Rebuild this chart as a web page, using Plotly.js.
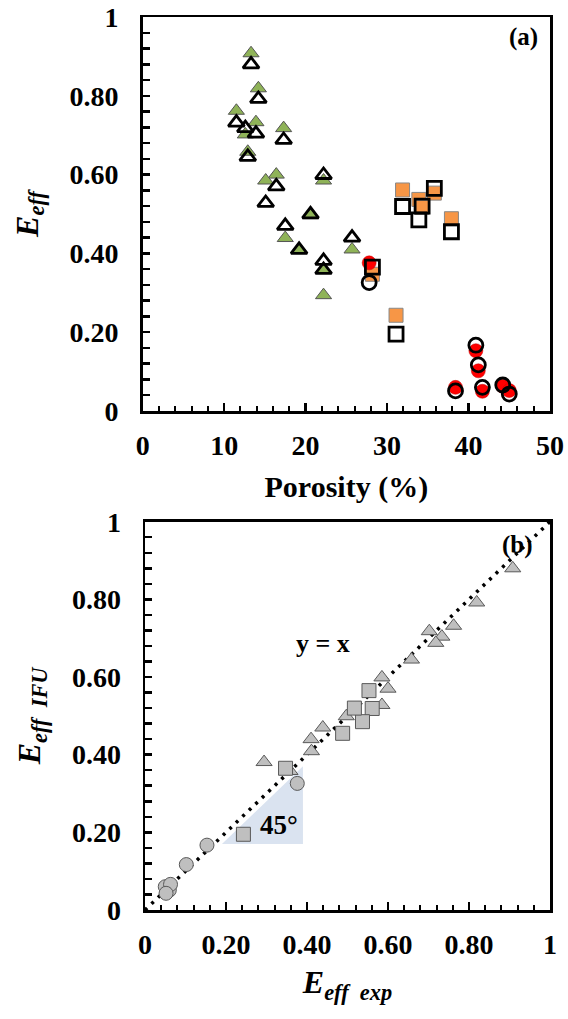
<!DOCTYPE html>
<html>
<head>
<meta charset="utf-8">
<script src="https://cdn.plot.ly/plotly-3.0.1.min.js"></script>
<style>html,body{margin:0;padding:0;background:#fff;}#chart{width:568px;height:1019px;}</style>
</head>
<body>
<div id="chart"></div>
<script>
// ---- Data ----
// Triangles: green filled = experimental, open = IFU model
const triPorosity = [13.3, 14.2, 11.5, 12.6, 13.9, 17.3, 12.9, 22.2, 16.4, 15.1, 20.6, 17.5, 19.2, 22.2, 22.2, 25.7];
const triExp      = [0.908, 0.819, 0.762, 0.702, 0.733, 0.718, 0.658, 0.585, 0.600, 0.585, 0.497, 0.439, 0.411, 0.294, 0.358, 0.410];
const triIFU      = [0.880, 0.792, 0.732, 0.718, 0.704, 0.688, 0.645, 0.599, 0.570, 0.528, 0.499, 0.470, 0.409, 0.381, 0.358, 0.440];
// Squares: orange filled = experimental, open = IFU model
const sqPorosity  = [31.9, 33.9, 34.3, 35.8, 37.9, 28.2, 31.1];
const sqExp       = [0.561, 0.537, 0.517, 0.553, 0.488, 0.347, 0.243];
const sqIFU       = [0.519, 0.485, 0.520, 0.565, 0.455, 0.365, 0.195];
// Circles: red filled = experimental, open = IFU model
const ciPorosity  = [27.8, 38.4, 40.9, 41.2, 41.7, 44.2, 45.0];
const ciExp       = [0.376, 0.060, 0.153, 0.102, 0.050, 0.063, 0.052];
const ciIFU       = [0.326, 0.051, 0.167, 0.117, 0.060, 0.066, 0.043];
// Reference line y = x
const lineXY = [0, 1];
// Tick labels
const effTickVals = [0, 0.2, 0.4, 0.6, 0.8, 1];
const effTickText = ['0', '0.20', '0.40', '0.60', '0.80', '1'];
const porTickVals = [0, 10, 20, 30, 40, 50];
const porTickText = ['0', '10', '20', '30', '40', '50'];

// ---- Styles ----
const SERIF = '"Liberation Serif", "Times New Roman", serif';
const GREEN = '#8fb358', ORANGE = '#f79646', RED = '#ff0000', GREY = '#bfbfbf';
const MS = 14;

function filled(x, y, symbol, color, xa, ya, lineColor, lw) {
  return {x: x, y: y, xaxis: xa, yaxis: ya, type: 'scatter', mode: 'markers', cliponaxis: false,
    marker: {symbol: symbol, size: MS, color: color, line: {color: lineColor, width: lw}}};
}
function openM(x, y, symbol, xa, ya) {
  return {x: x, y: y, xaxis: xa, yaxis: ya, type: 'scatter', mode: 'markers', cliponaxis: false,
    marker: {symbol: symbol, size: MS, color: 'rgba(0,0,0,0)', line: {color: 'black', width: 2.8}}};
}

const traces = [
  // panel (a)
  filled(triPorosity, triExp, 'triangle-up', GREEN, 'x', 'y', '#555', 1),
  filled(sqPorosity, sqExp, 'square', ORANGE, 'x', 'y', '#888', 1),
  filled(ciPorosity, ciExp, 'circle', RED, 'x', 'y', '#c00000', 0.5),
  openM(triPorosity, triIFU, 'triangle-up', 'x', 'y'),
  openM(sqPorosity, sqIFU, 'square', 'x', 'y'),
  openM(ciPorosity, ciIFU, 'circle', 'x', 'y'),
  // panel (b)
  {x: lineXY, y: lineXY, xaxis: 'x2', yaxis: 'y2', type: 'scatter', mode: 'lines', cliponaxis: false,
    line: {color: 'black', width: 3.5, dash: '3px,6px'}},
  filled(triExp, triIFU, 'triangle-up', GREY, 'x2', 'y2', '#595959', 1),
  filled(sqExp, sqIFU, 'square', GREY, 'x2', 'y2', '#595959', 1),
  filled(ciExp, ciIFU, 'circle', GREY, 'x2', 'y2', '#595959', 1)
];

const tickFont = {family: SERIF, size: 28, color: 'black', weight: 'bold'};
const titleFont = {family: SERIF, size: 30, color: 'black', weight: 'bold'};
const effTitleFont = {family: SERIF, size: 32, color: 'black', weight: 'bold'};

function axis(extra) {
  return Object.assign({
    showgrid: false, zeroline: false, showline: true, mirror: true,
    linecolor: 'black', linewidth: 2.5, ticks: 'inside', ticklen: 7, tickwidth: 2.5,
    tickcolor: 'black', tickfont: tickFont, ticklabelstandoff: 16, fixedrange: true
  }, extra);
}

const W = 568, H = 1019;
const layout = {
  width: W, height: H, margin: {l: 0, r: 0, t: 0, b: 0},
  paper_bgcolor: 'white', plot_bgcolor: 'white', showlegend: false,
  xaxis: axis({domain: [142.7 / W, 550 / W], range: [0, 50], anchor: 'y',
    tickmode: 'array', tickvals: porTickVals, ticktext: porTickText, ticklen: 8, ticklabelstandoff: 8,
    minor: {tickmode: 'linear', tick0: 0, dtick: 2, ticks: 'inside', ticklen: 5, tickwidth: 2, tickcolor: 'black'},
    title: {text: 'Porosity (%)', font: titleFont, standoff: 16}}),
  yaxis: axis({domain: [(H - 411) / H, (H - 17) / H], range: [0, 1], anchor: 'x',
    tickmode: 'array', tickvals: effTickVals, ticktext: effTickText,
    minor: {tickmode: 'linear', tick0: 0, dtick: 0.04, ticks: 'inside', ticklen: 7, tickwidth: 2.5, tickcolor: 'black'},
    title: {text: '<i>E</i><sub><i>eff</i></sub>', font: effTitleFont, standoff: 22}}),
  xaxis2: axis({domain: [145 / W, 550 / W], range: [0, 1], anchor: 'y2',
    tickmode: 'array', tickvals: effTickVals, ticktext: effTickText, ticklen: 8, ticklabelstandoff: 8,
    minor: {tickmode: 'linear', tick0: 0, dtick: 0.04, ticks: 'inside', ticklen: 5, tickwidth: 2, tickcolor: 'black'},
    title: {text: '<i>E</i><sub><i>eff  exp</i></sub>', font: effTitleFont, standoff: 12}}),
  yaxis2: axis({domain: [(H - 910) / H, (H - 521.7) / H], range: [0, 1], anchor: 'x2',
    tickmode: 'array', tickvals: effTickVals, ticktext: effTickText,
    minor: {tickmode: 'linear', tick0: 0, dtick: 0.04, ticks: 'inside', ticklen: 7, tickwidth: 2.5, tickcolor: 'black'},
    title: {text: '<i>E</i><sub><i>eff  IFU</i></sub>', font: effTitleFont, standoff: 22}}),
  shapes: [{type: 'path', xref: 'x2', yref: 'y2', path: 'M 0.19 0.17 L 0.39 0.17 L 0.39 0.37 Z',
    fillcolor: '#dae3f0', line: {width: 0}, layer: 'below'}],
  annotations: [
    {xref: 'x', yref: 'y', x: 46.7, y: 0.95, text: '(a)', showarrow: false,
      font: {family: SERIF, size: 25, color: 'black', weight: 'bold'}},
    {xref: 'x2', yref: 'y2', x: 0.92, y: 0.94, text: '(b)', showarrow: false,
      font: {family: SERIF, size: 25, color: 'black', weight: 'bold'}},
    {xref: 'x2', yref: 'y2', x: 0.44, y: 0.687, text: 'y = x', showarrow: false,
      font: {family: SERIF, size: 26, color: 'black', weight: 'bold'}},
    {xref: 'x2', yref: 'y2', x: 0.33, y: 0.22, text: '45°', showarrow: false,
      font: {family: SERIF, size: 27, color: 'black', weight: 'bold'}}
  ]
};

Plotly.newPlot('chart', traces, layout, {staticPlot: true, displayModeBar: false});
</script>
</body>
</html>
